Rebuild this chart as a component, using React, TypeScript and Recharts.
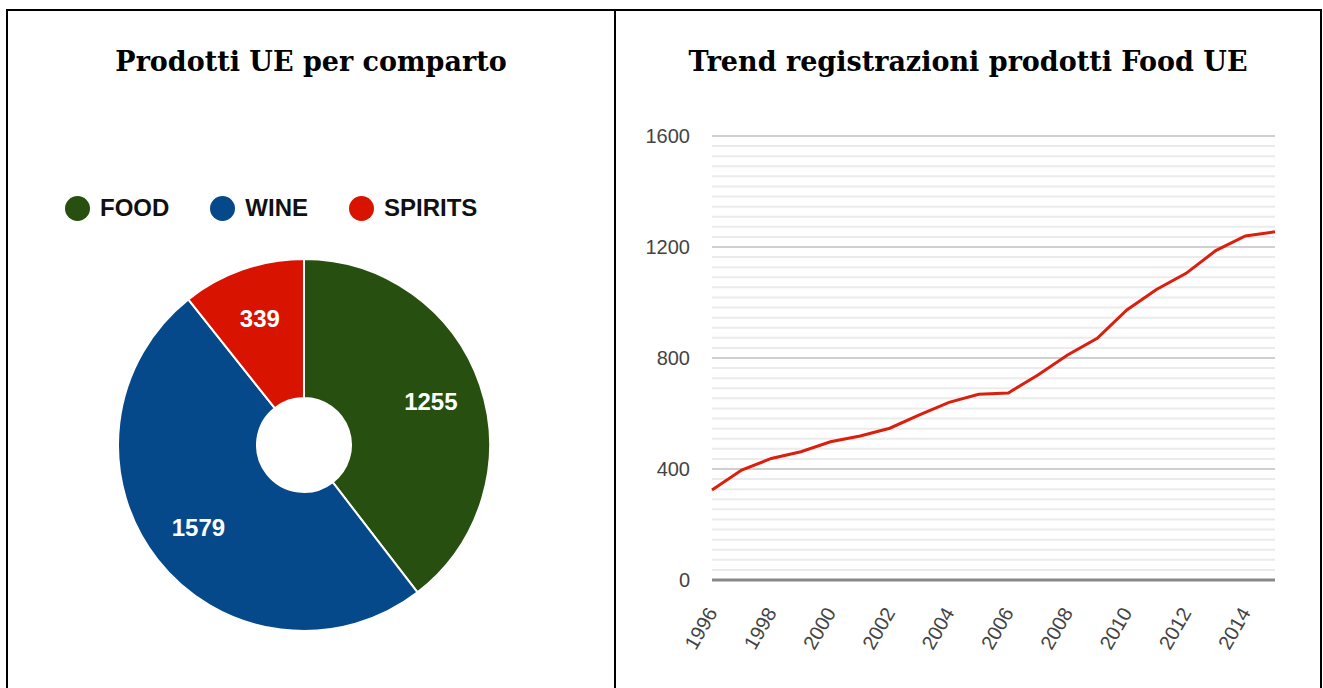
import React from 'react';
import { PieChart, Pie, Cell, LineChart, Line, XAxis, YAxis, CartesianGrid } from 'recharts';

// ---- Pie data ----
const sectorNames = ['FOOD', 'WINE', 'SPIRITS'];
const sectorValues = [1255, 1579, 339];
const sectorColors = ['#264f10', '#05498a', '#d81400'];

// ---- Line data ----
const years = [1996, 1997, 1998, 1999, 2000, 2001, 2002, 2003, 2004, 2005, 2006, 2007, 2008, 2009, 2010, 2011, 2012, 2013, 2014, 2015];
const foodRegistrations = [324, 396, 438, 462, 498, 519, 547, 595, 640, 669, 674, 739, 811, 871, 973, 1047, 1105, 1187, 1240, 1255];
const yTicks = [0, 400, 800, 1200, 1600];
const xTicks = [1996, 1998, 2000, 2002, 2004, 2006, 2008, 2010, 2012, 2014];
const minorPerMajor = 10;

const pieData = sectorNames.map((name, i) => ({ name, value: sectorValues[i] }));
const lineData = years.map((year, i) => ({ year, value: foodRegistrations[i] }));
const allYTicks: number[] = [];
for (let i = 0; i < yTicks.length; i++) {
  allYTicks.push(yTicks[i]);
  if (i < yTicks.length - 1) {
    const step = (yTicks[i + 1] - yTicks[i]) / (minorPerMajor + 1);
    for (let k = 1; k <= minorPerMajor; k++) allYTicks.push(yTicks[i] + k * step);
  }
}
const isMajor = (v: number) => yTicks.some((t) => Math.abs(t - v) < 1e-6);

const SANS = "Arial, 'Liberation Sans', Helvetica, sans-serif";
const SERIF = "Georgia, 'DejaVu Serif', serif";
const RAD = Math.PI / 180;

const renderPieLabel = (props: any) => {
  const { cx, cy, midAngle, value } = props;
  const r = 134;
  const x = cx + r * Math.cos(-midAngle * RAD);
  const y = cy + r * Math.sin(-midAngle * RAD);
  return (
    <text x={x} y={y} fill="#ffffff" textAnchor="middle" dominantBaseline="central"
      fontFamily={SANS} fontWeight="bold" fontSize={24}>
      {value}
    </text>
  );
};

const XTick = (props: any) => {
  const { x, y, payload } = props;
  return (
    <g transform={`translate(${x},${y + 21})`}>
      <text x={0} y={0} textAnchor="end" dominantBaseline="central" transform="rotate(-60)"
        fill="#444" fontFamily={SANS} fontSize={20}>
        {payload.value}
      </text>
    </g>
  );
};

const YTick = (props: any) => {
  const { x, y, payload } = props;
  if (!isMajor(payload.value)) return <g />;
  return (
    <text x={x} y={y} textAnchor="end" dominantBaseline="central" fill="#444" fontFamily={SANS} fontSize={20}>
      {Math.round(payload.value)}
    </text>
  );
};

const renderGridLine = (props: any) => {
  const { x1, x2, y1, y2, index } = props;
  const v = allYTicks[index];
  if (v === 0) return <g key={`g-${index}`} />;
  const major = v !== undefined && isMajor(v);
  return (
    <line key={`g-${index}`} x1={x1} x2={x2} y1={y1} y2={y2}
      stroke={major ? '#d0d0d0' : '#ebebeb'} strokeWidth={2} fill="none" />
  );
};

const border = (left: number, top: number, width: number, height: number) => (
  <div style={{ position: 'absolute', left, top, width, height, background: '#000' }} />
);

export default function App() {
  return (
    <div style={{ position: 'absolute', left: 0, top: 0, width: 1323, height: 688, overflow: 'hidden', background: '#fff' }}>
      {border(6, 9, 1316, 2)}
      {border(6, 9, 2, 700)}
      {border(614, 9, 2, 700)}
      {border(1320, 9, 2, 700)}

      <div style={{ position: 'absolute', left: 8, top: 44, width: 606, height: 36, lineHeight: '36px', textAlign: 'center',
        fontFamily: SERIF, fontWeight: 'bold', fontSize: 27, color: '#000' }}>
        Prodotti UE per comparto
      </div>
      <div style={{ position: 'absolute', left: 616, top: 44, width: 704, height: 36, lineHeight: '36px', textAlign: 'center',
        fontFamily: SERIF, fontWeight: 'bold', fontSize: 27, color: '#000' }}>
        Trend registrazioni prodotti Food UE
      </div>

      {/* Legend */}
      <div style={{ position: 'absolute', left: 65, top: 195, height: 26, display: 'flex', alignItems: 'center' }}>
        {sectorNames.map((n, i) => (
          <div key={n} style={{ display: 'flex', alignItems: 'center', marginRight: 41 }}>
            <div style={{ width: 25, height: 25, borderRadius: '50%', background: sectorColors[i], marginRight: 10 }} />
            <span style={{ fontFamily: SANS, fontWeight: 'bold', fontSize: 24, color: '#111', lineHeight: '26px' }}>{n}</span>
          </div>
        ))}
      </div>

      <div style={{ position: 'absolute', left: 8, top: 100 }}>
        <PieChart width={606} height={588} margin={{ top: 0, right: 0, bottom: 0, left: 0 }}>
          <Pie data={pieData} dataKey="value" nameKey="name" cx={296} cy={345}
            innerRadius={47} outerRadius={186} startAngle={90} endAngle={-270}
            stroke="#ffffff" strokeWidth={2} label={renderPieLabel} labelLine={false}
            isAnimationActive={false}>
            {pieData.map((d, i) => (
              <Cell key={d.name} fill={sectorColors[i]} />
            ))}
          </Pie>
        </PieChart>
      </div>

      <div style={{ position: 'absolute', left: 616, top: 100 }}>
        <LineChart width={704} height={588} data={lineData} margin={{ top: 36, right: 45, bottom: 0, left: 0 }}>
          <CartesianGrid vertical={false} horizontal={renderGridLine} />
          <XAxis dataKey="year" type="number" domain={[1996, 2015]} ticks={xTicks} interval={0}
            height={108} tickLine={false} axisLine={{ stroke: '#888', strokeWidth: 3 }} tick={<XTick />} />
          <YAxis type="number" domain={[0, 1600]} ticks={allYTicks} interval={0} width={96} axisLine={false} tickLine={false}
            tickSize={6} tickMargin={16} tick={<YTick />} />
          <Line type="linear" dataKey="value" stroke="#dc1e0d" strokeWidth={3} dot={false} isAnimationActive={false} />
        </LineChart>
      </div>
    </div>
  );
}
